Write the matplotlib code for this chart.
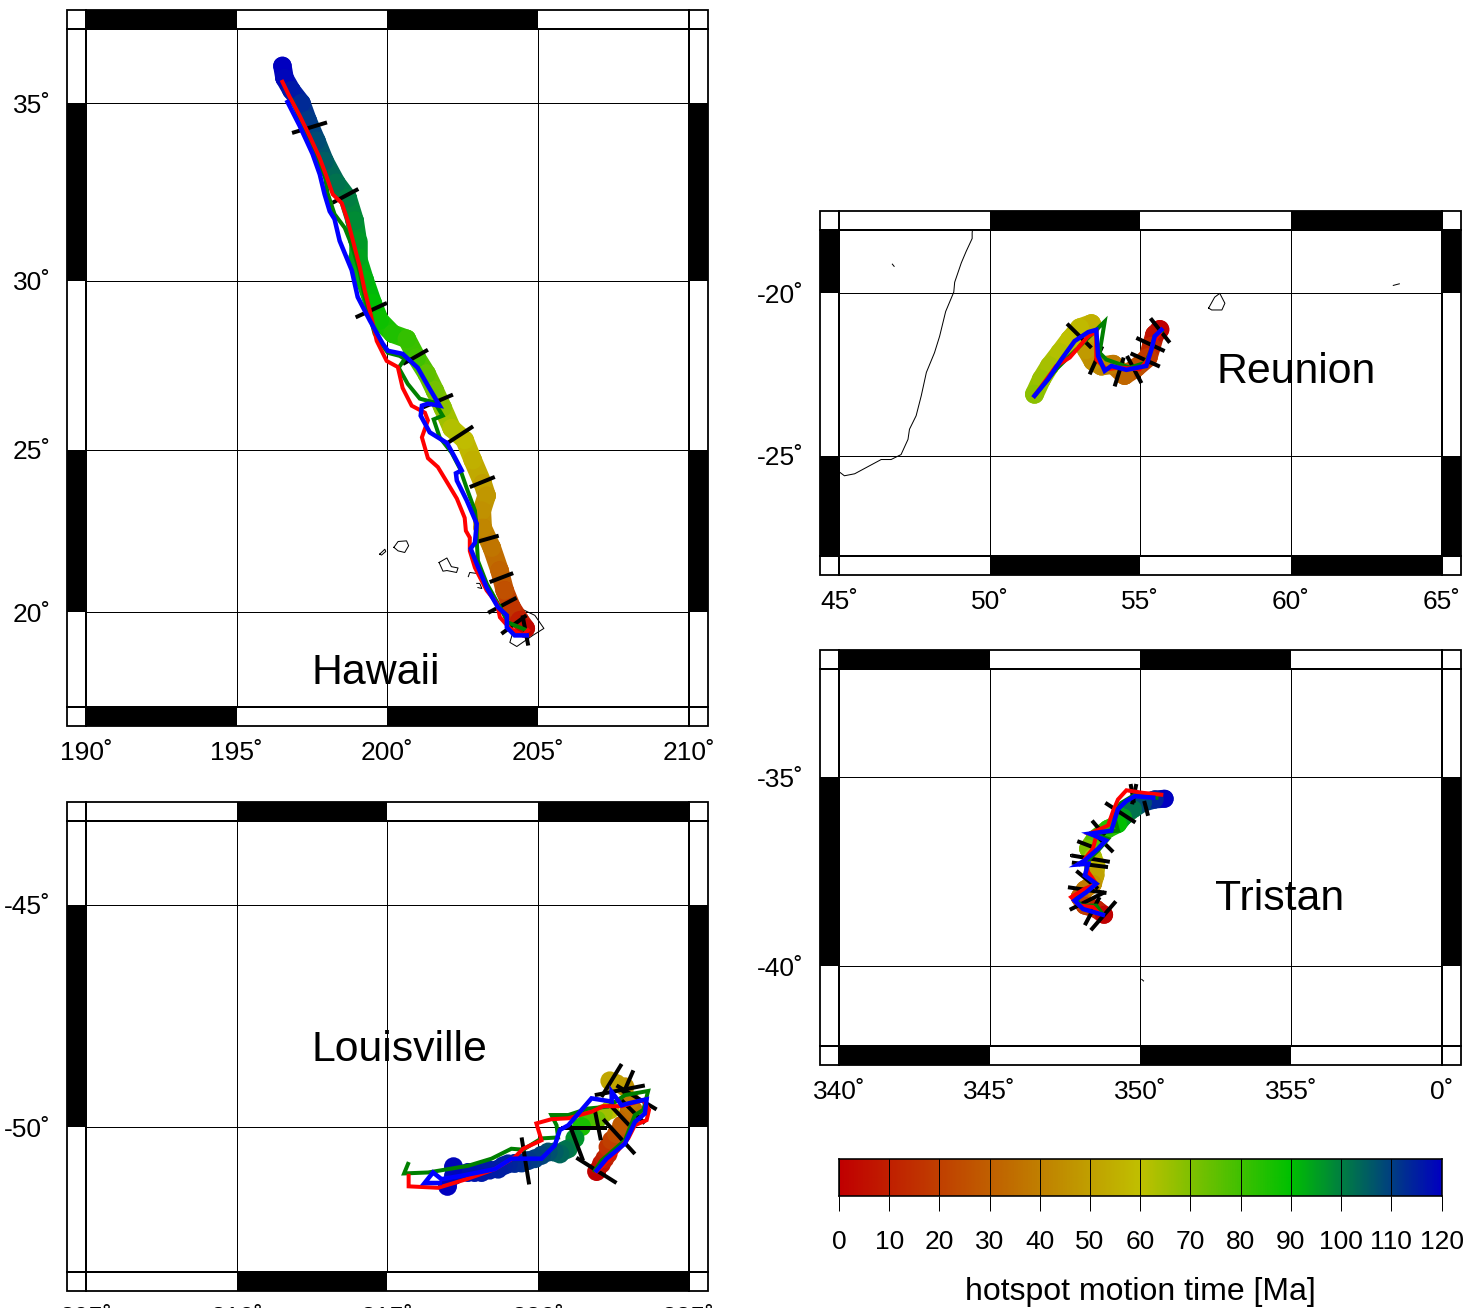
import numpy as np
import matplotlib
matplotlib.use("Agg")
import matplotlib.pyplot as plt
from matplotlib.collections import LineCollection
from matplotlib.colors import LinearSegmentedColormap
from matplotlib.patches import Rectangle

plt.rcParams['font.family'] = ['Liberation Sans', 'DejaVu Sans']

W = 1479
H = 1308
BAND = 19

# Hawaii
hawaii_lon = [196.52, 196.59, 196.82, 197.15, 197.36, 197.65, 197.92, 198.31, 198.69, 198.92, 199.02, 199.02, 199.25, 199.52, 199.75, 200.18, 200.65, 200.98, 201.31, 201.58, 201.84, 202.14, 202.57, 202.84, 203.17, 203.30, 203.14, 203.17, 203.47, 203.73, 203.90, 204.13, 204.40, 204.60]
hawaii_lat = [36.01, 35.68, 35.35, 35.0, 34.52, 33.96, 33.40, 32.79, 32.36, 31.72, 31.15, 30.67, 30.03, 29.35, 28.85, 28.46, 28.31, 27.75, 27.28, 26.78, 26.27, 25.65, 25.30, 24.69, 23.98, 23.61, 23.15, 22.62, 22.01, 21.30, 20.68, 20.15, 19.75, 19.49]
hawaii_age = [120, 119, 116, 113, 111, 108, 105, 102, 100, 98, 96, 94.5, 92, 90, 88, 85, 82, 80, 75, 72, 68, 62, 59, 55, 50, 47, 45, 42, 37, 31, 25, 17, 9, 2]
hawaii_red = [(196.52, 35.58), (196.76, 35.17), (197.09, 34.66), (197.42, 34.10), (197.76, 33.48), (197.98, 32.98), (198.19, 32.47), (198.49, 32.22), (198.69, 31.72), (198.92, 30.96), (199.09, 30.39), (199.25, 29.73), (199.42, 29.14), (199.65, 28.25), (199.98, 27.66), (200.35, 27.48), (200.51, 26.86), (200.81, 26.33), (201.25, 26.12), (201.35, 25.89), (201.15, 25.38), (201.35, 24.75), (201.68, 24.48), (202.01, 23.98), (202.31, 23.52), (202.57, 22.93), (202.61, 22.53), (202.74, 22.32), (202.74, 21.91), (202.91, 21.39), (203.30, 20.68), (203.64, 20.28), (203.74, 19.84), (204.07, 19.49), (204.50, 19.27), (204.67, 19.43)]
hawaii_green = [(196.83, 35.08), (197.19, 34.44), (197.59, 33.68), (197.92, 33.03), (198.02, 32.50), (198.25, 31.91), (198.59, 31.52), (198.85, 30.96), (199.09, 30.24), (199.25, 29.53), (199.58, 28.46), (199.92, 28.02), (200.02, 27.90), (200.41, 27.81), (200.58, 27.72), (200.38, 27.46), (200.68, 26.98), (201.08, 26.54), (201.58, 26.42), (201.84, 26.03), (201.54, 25.92), (201.74, 25.38), (202.14, 24.91), (202.41, 24.44), (202.64, 23.83), (202.91, 23.15), (202.97, 22.62), (202.97, 22.22), (203.01, 21.60), (203.30, 20.90), (203.74, 20.16), (204.00, 19.68), (204.63, 19.43)]
hawaii_blue = [(196.69, 35.03), (197.09, 34.38), (197.52, 33.60), (197.76, 33.03), (197.92, 32.47), (198.09, 31.99), (198.25, 31.77), (198.42, 31.15), (198.82, 30.31), (199.02, 29.53), (199.42, 28.85), (199.85, 28.17), (200.02, 27.96), (200.51, 27.87), (201.01, 27.46), (201.41, 26.83), (201.74, 26.33), (201.35, 26.39), (201.15, 26.33), (201.11, 26.03), (201.41, 25.53), (201.98, 25.21), (202.24, 24.78), (202.47, 24.38), (202.28, 24.29), (202.31, 24.07), (202.64, 23.46), (202.97, 22.75), (202.91, 22.16), (202.77, 21.98), (202.97, 21.51), (203.30, 20.77), (203.67, 20.16), (203.97, 19.90), (203.97, 19.52), (204.23, 19.27), (204.63, 19.27)]
hawaii_bars = [[(196.84, 34.18), (198.00, 34.47)], [(198.18, 32.23), (199.04, 32.62)], [(198.95, 28.94), (199.99, 29.36)], [(200.52, 27.57), (201.35, 27.99)], [(201.19, 26.28), (202.18, 26.66)], [(202.02, 25.22), (202.85, 25.71)], [(202.74, 23.87), (203.57, 24.18)], [(202.91, 22.17), (203.70, 22.38)], [(203.40, 20.94), (204.18, 21.22)], [(203.35, 19.98), (204.29, 20.45)], [(203.79, 19.32), (204.62, 19.90)], [(204.49, 19.90), (204.68, 18.95)]]
hawaii_coast = [
    [(204.13, 20.25), (204.90, 19.90), (205.20, 19.49), (204.83, 19.27), (204.30, 18.92), (204.07, 19.05), (204.17, 19.36)],
    [(202.69, 21.11), (202.74, 21.24), (203.04, 21.20), (203.04, 21.08)],
    [(202.97, 20.90), (203.07, 20.90), (203.14, 20.74), (203.01, 20.77)],
    [(201.72, 21.55), (201.98, 21.69), (202.13, 21.42), (202.35, 21.38), (202.30, 21.24), (201.98, 21.30), (201.85, 21.28), (201.72, 21.55)],
    [(200.22, 22.02), (200.36, 22.20), (200.64, 22.22), (200.71, 22.07), (200.58, 21.86), (200.36, 21.91), (200.22, 22.02)],
    [(199.75, 21.81), (199.92, 21.96), (199.95, 21.89), (199.81, 21.78), (199.75, 21.81)],
]

# Reunion
reunion_lon = [55.65, 55.48, 55.37, 55.26, 54.87, 54.48, 54.10, 53.71, 53.43, 53.21, 53.27, 53.38, 52.99, 52.66, 52.33, 51.99, 51.72, 51.49]
reunion_lat = [-21.13, -21.29, -21.65, -22.00, -22.31, -22.55, -22.21, -22.26, -22.11, -21.75, -21.24, -20.95, -21.08, -21.44, -21.85, -22.26, -22.67, -23.13]
reunion_age = [0, 5, 12, 18, 25, 32, 38, 42, 45, 48, 52, 55, 58, 60, 62, 64, 66, 68]
reunion_red = [(51.49, -23.18), (52.21, -22.26), (52.66, -22.00), (53.27, -21.34), (53.54, -21.19), (53.54, -22.06), (53.87, -22.36), (54.32, -22.31), (54.98, -22.36), (55.26, -22.06), (55.43, -21.54), (55.65, -21.24)]
reunion_green = [(51.49, -23.18), (52.21, -22.36), (52.88, -21.75), (53.54, -21.14), (53.82, -20.88), (53.65, -21.85), (53.87, -22.06), (54.65, -22.31), (55.18, -22.16), (55.37, -21.75), (55.48, -21.34), (55.70, -21.19)]
reunion_blue = [(51.49, -23.18), (51.94, -22.67), (52.38, -22.06), (52.82, -21.49), (53.27, -21.21), (53.54, -21.14), (53.60, -21.95), (53.82, -22.41), (54.04, -22.26), (54.54, -22.38), (55.20, -22.26), (55.37, -21.75), (55.48, -21.34), (55.70, -21.14)]
reunion_bars = [[(52.57, -20.95), (53.38, -21.70)], [(53.74, -21.65), (53.32, -22.52)], [(54.45, -22.00), (54.15, -22.89)], [(54.56, -21.95), (55.04, -22.79)], [(54.68, -21.87), (55.65, -22.28)], [(54.87, -21.39), (55.81, -21.80)], [(55.34, -20.78), (55.98, -21.54)]]
reunion_coast = [
    [(49.43, -18.0), (49.42, -18.09), (49.42, -18.27), (49.22, -18.68), (49.06, -19.04), (48.84, -19.65), (48.81, -19.96), (48.54, -20.57), (48.34, -21.34), (48.17, -21.85), (47.90, -22.46), (47.73, -23.18), (47.56, -23.79), (47.34, -24.20), (47.29, -24.51), (47.06, -24.97), (46.73, -25.12), (46.40, -25.12), (45.52, -25.55), (45.18, -25.61), (45.02, -25.50)],
    [(57.27, -20.46), (57.47, -20.12), (57.64, -20.0), (57.81, -20.31), (57.71, -20.52), (57.37, -20.52), (57.27, -20.46)],
    [(63.40, -19.75), (63.60, -19.70)],
    [(46.77, -19.08), (46.83, -19.15)],
]

# Tristan
tristan_lon = [350.81, 350.48, 350.09, 349.76, 349.43, 349.26, 348.93, 348.49, 348.27, 348.43, 348.54, 348.51, 348.43, 348.16, 347.99, 348.16, 348.54, 348.80]
tristan_lat = [-35.59, -35.61, -35.70, -35.87, -36.09, -36.27, -36.40, -36.67, -36.93, -37.15, -37.37, -37.64, -37.86, -38.01, -38.21, -38.43, -38.52, -38.67]
tristan_age = [120, 114, 108, 102, 95, 90, 84, 76, 70, 63, 57, 51, 46, 38, 30, 20, 10, 0]
tristan_red = [(350.70, -35.48), (350.09, -35.43), (349.54, -35.36), (349.26, -35.61), (349.10, -35.92), (348.93, -36.31), (348.32, -36.53), (348.54, -36.58), (348.43, -36.93), (348.16, -37.20), (348.27, -37.55), (348.54, -37.86), (348.16, -37.99), (347.71, -38.21), (347.99, -38.43), (348.43, -38.47), (348.60, -38.61)]
tristan_green = [(350.54, -35.56), (349.82, -35.48), (349.37, -35.70), (349.10, -35.96), (349.26, -36.45), (348.38, -36.53), (348.93, -36.67), (348.60, -36.98), (348.21, -37.28), (348.21, -37.64), (348.49, -37.86), (348.27, -38.03), (347.82, -38.21), (348.04, -38.43), (348.54, -38.43), (348.71, -38.61)]
tristan_blue = [(350.43, -35.56), (349.82, -35.52), (349.54, -35.65), (349.26, -35.87), (349.04, -36.45), (348.32, -36.53), (348.86, -36.71), (348.60, -36.93), (348.16, -37.24), (347.93, -37.35), (348.27, -37.33), (348.16, -37.64), (348.54, -37.86), (348.21, -38.08), (347.82, -38.30), (348.10, -38.52), (348.76, -38.67)]
tristan_bars = [[(349.68, -35.19), (349.79, -35.70)], [(349.87, -35.19), (349.73, -35.74)], [(350.13, -35.65), (350.26, -36.05)], [(348.84, -35.70), (349.84, -36.23)], [(348.40, -36.18), (348.82, -36.58)], [(347.91, -36.73), (348.43, -36.89)], [(348.60, -36.62), (349.10, -37.02)], [(347.71, -37.11), (348.99, -37.28)], [(347.73, -37.30), (348.93, -37.42)], [(347.88, -37.52), (348.60, -37.99)], [(347.60, -37.95), (348.88, -38.10)], [(347.66, -38.54), (348.82, -38.08)], [(348.16, -38.94), (348.65, -38.21)], [(348.36, -39.07), (349.19, -38.32)]]
tristan_coast = [
    [(347.66, -37.06), (347.72, -37.06), (347.72, -37.12), (347.66, -37.12), (347.66, -37.06)],
    [(350.05, -40.33), (350.11, -40.37)],
]

# Louisville
louisville_lon = [221.95, 222.11, 222.22, 222.33, 222.33, 222.45, 222.61, 222.78, 223.00, 223.17, 223.00, 223.06, 222.89, 222.61, 222.39, 222.39, 222.17, 221.95, 221.67, 221.45, 221.23, 221.01, 220.90, 220.73, 220.54, 220.34, 220.12, 219.90, 219.68, 219.46, 219.23, 219.01, 218.85, 218.68, 218.40, 218.13, 217.90, 217.68, 217.20, 217.00, 217.20]
louisville_lat = [-50.94, -50.78, -50.67, -50.57, -50.42, -50.28, -50.14, -49.96, -49.71, -49.63, -49.49, -49.42, -49.13, -49.06, -49.00, -49.63, -49.71, -49.85, -49.81, -49.99, -50.24, -50.46, -50.49, -50.57, -50.53, -50.53, -50.60, -50.67, -50.71, -50.76, -50.77, -50.78, -50.82, -50.89, -50.91, -50.96, -50.96, -50.96, -51.03, -51.25, -50.84]
louisville_age = [0, 5, 9, 12, 16, 20, 24, 28, 33, 35, 36, 38, 45, 49, 52, 60, 65, 72, 78, 86, 97, 100, 102, 104, 105, 107, 109, 110, 111, 112, 113, 114, 114.5, 115, 115.5, 116, 116.5, 117, 118, 120, 119]
louisville_red = [(215.71, -51.03), (215.71, -51.25), (216.69, -51.28), (217.63, -51.10), (218.57, -50.89), (219.23, -50.64), (219.51, -50.46), (220.12, -50.28), (219.95, -49.92), (220.45, -49.83), (221.01, -49.81), (221.78, -49.67), (222.17, -49.55), (222.78, -49.55), (223.50, -49.42), (223.69, -49.63), (223.61, -49.85), (223.22, -49.96), (223.00, -50.24), (222.56, -50.57), (221.95, -50.94)]
louisville_green = [(215.69, -50.78), (215.56, -50.98), (216.36, -50.96), (217.68, -50.82), (218.46, -50.67), (219.12, -50.46), (219.51, -50.48), (220.12, -50.24), (220.67, -50.22), (220.62, -49.96), (220.45, -49.74), (221.01, -49.74), (221.67, -49.60), (222.33, -49.56), (222.89, -49.31), (223.66, -49.22), (223.50, -49.63), (223.22, -49.74), (222.89, -50.28), (222.11, -50.71), (221.89, -50.92)]
louisville_blue = [(216.74, -51.18), (216.24, -51.18), (216.52, -50.96), (216.80, -51.10), (217.46, -51.03), (218.57, -50.89), (219.12, -50.67), (220.12, -50.67), (220.56, -50.39), (220.73, -50.06), (221.01, -49.96), (221.78, -49.38), (222.45, -49.45), (222.45, -49.24), (222.78, -49.53), (223.00, -49.49), (223.61, -49.40), (223.55, -49.71), (223.22, -49.89), (222.89, -50.35), (222.28, -50.67), (221.95, -50.92)]
louisville_bars = [[(219.46, -50.22), (219.71, -51.21)], [(220.78, -50.01), (222.28, -50.01)], [(221.06, -49.96), (221.50, -50.71)], [(221.28, -50.65), (222.61, -51.18)], [(221.89, -49.63), (222.09, -50.28)], [(222.17, -49.83), (223.22, -50.57)], [(222.45, -49.56), (223.03, -49.96)], [(221.89, -49.31), (223.55, -49.10)], [(222.78, -48.63), (222.11, -49.35)], [(223.17, -48.77), (222.83, -49.28)], [(222.61, -49.10), (223.94, -49.62)], [(222.78, -49.42), (223.55, -49.92)]]

age_ticks = [0, 10, 20, 30, 40, 50, 60, 70, 80, 90, 100, 110, 120]
age_cmap = LinearSegmentedColormap.from_list("hotspot", [(0, "#c00000"), (0.5, "#c0c000"), (0.75, "#00c000"), (1, "#0000c0")])


def px(value):
    # sizes below are read in image pixels, the figure is at 100 dpi
    return value * 0.72


def merc(lat):
    return np.degrees(np.log(np.tan(np.radians(45 + np.asarray(lat) / 2))))


def inv_merc(y):
    return 2 * np.degrees(np.arctan(np.exp(np.radians(np.asarray(y))))) - 90


def make_panel(x0, y0, x1, y1, lon_edges, lat_edges, lon_labels, lat_ticks, lat_labels, lon_black, lat_black):
    ax = plt.gcf().add_axes([x0 / W, 1 - y1 / H, (x1 - x0) / W, (y1 - y0) / H])
    ax.set_yscale('function', functions=(merc, inv_merc))
    ax.set_xlim(lon_edges[0], lon_edges[-1])
    ax.set_ylim(lat_edges[0], lat_edges[-1])
    ax.set_xticks(lon_edges, labels=lon_labels)
    ax.set_yticks(lat_ticks, labels=lat_labels)
    ax.minorticks_off()
    ax.tick_params(length=0, labelsize=19)
    ax.tick_params(axis='x', pad=px(34))
    ax.tick_params(axis='y', pad=px(35))
    ax.grid(color='black', lw=px(1))
    ax.set_axisbelow(True)
    for s in ax.spines.values():
        s.set_linewidth(px(2))

    fx = BAND / (x1 - x0)
    fy = BAND / (y1 - y0)
    for i in range(len(lon_edges) - 1):
        if i % 2 == lon_black:
            for base in [1, -fy]:
                ax.add_patch(Rectangle((lon_edges[i], base), lon_edges[i + 1] - lon_edges[i], fy, transform=ax.get_xaxis_transform(), clip_on=False, fc='black', lw=0))
    for i in range(len(lat_edges) - 1):
        if i % 2 == lat_black:
            for base in [1, -fx]:
                ax.add_patch(Rectangle((base, lat_edges[i]), fx, lat_edges[i + 1] - lat_edges[i], transform=ax.get_yaxis_transform(), clip_on=False, fc='black', lw=0))
    ax.add_patch(Rectangle((-fx, -fy), 1 + 2 * fx, 1 + 2 * fy, transform=ax.transAxes, clip_on=False, fc='none', ec='black', lw=px(1.8)))
    # the frame lines run on through the corner boxes
    for edge in [0, 1]:
        ax.plot([-fx, 1 + fx], [edge, edge], transform=ax.transAxes, clip_on=False, color='black', lw=px(2))
        ax.plot([edge, edge], [-fy, 1 + fy], transform=ax.transAxes, clip_on=False, color='black', lw=px(2))
    return ax


def draw_track(ax, lon, lat, age, size, joined=True):
    lon = np.array(lon)
    lat = np.array(lat)
    age = np.array(age, dtype=float)
    if joined:
        pts = np.column_stack([lon, lat])
        segs = np.stack([pts[:-1], pts[1:]], axis=1)
        lc = LineCollection(segs, cmap=age_cmap, linewidths=px(size), capstyle='round', zorder=3)
        lc.set_array((age[:-1] + age[1:]) / 2)
        lc.set_clim(0, 120)
        ax.add_collection(lc)
    ax.scatter(lon, lat, c=age, cmap=age_cmap, vmin=0, vmax=120, s=px(size) ** 2, lw=0, zorder=3)


def draw_lines(ax, red, green, blue, bars, coast=None):
    if coast:
        for c in coast:
            c = np.array(c)
            ax.plot(c[:, 0], c[:, 1], color='black', lw=px(1), zorder=2)
    for line, col, wid, z in [(green, 'green', 4, 5), (red, 'red', 4, 6), (blue, 'blue', 4.5, 7)]:
        line = np.array(line)
        ax.plot(line[:, 0], line[:, 1], color=col, lw=px(wid), solid_joinstyle='miter', zorder=z)
    for b in bars:
        b = np.array(b)
        ax.plot(b[:, 0], b[:, 1], color='black', lw=px(4), solid_capstyle='butt', zorder=4)


fig = plt.figure(figsize=(W / 100, H / 100), dpi=100)

ax = make_panel(86, 29, 688.5, 707, [190, 195, 200, 205, 210], [17, 20, 25, 30, 35, 37],
                ["190˚", "195˚", "200˚", "205˚", "210˚"], [20, 25, 30, 35], ["20˚", "25˚", "30˚", "35˚"], 0, 1)
draw_track(ax, hawaii_lon, hawaii_lat, hawaii_age, 18.5)
draw_lines(ax, hawaii_red, hawaii_green, hawaii_blue, hawaii_bars, hawaii_coast)

ax = make_panel(839, 230, 1441.5, 556, [45, 50, 55, 60, 65], [-28, -25, -20, -18],
                ["45˚", "50˚", "55˚", "60˚", "65˚"], [-25, -20], ["-25˚", "-20˚"], 1, 0)
draw_track(ax, reunion_lon, reunion_lat, reunion_age, 19)
draw_lines(ax, reunion_red, reunion_green, reunion_blue, reunion_bars, reunion_coast)

ax = make_panel(839, 669, 1441.5, 1046, [340, 345, 350, 355, 360], [-42, -40, -35, -32],
                ["340˚", "345˚", "350˚", "355˚", "0˚"], [-40, -35], ["-40˚", "-35˚"], 0, 1)
draw_track(ax, tristan_lon, tristan_lat, tristan_age, 18)
draw_lines(ax, tristan_red, tristan_green, tristan_blue, tristan_bars, tristan_coast)

ax = make_panel(86, 821, 688.5, 1272, [205, 210, 215, 220, 225], [-53, -50, -45, -43],
                ["205˚", "210˚", "215˚", "220˚", "225˚"], [-50, -45], ["-50˚", "-45˚"], 1, 1)
draw_track(ax, louisville_lon, louisville_lat, louisville_age, 19, joined=False)
draw_lines(ax, louisville_red, louisville_green, louisville_blue, louisville_bars)

for name, x, y in [("Hawaii", 311.5, 684), ("Reunion", 1216.5, 383), ("Tristan", 1215.5, 910), ("Louisville", 311.5, 1061)]:
    fig.text(x / W, 1 - y / H, name, fontsize=30.8, ha='left', va='baseline')

# colour scale
cax = fig.add_axes([839 / W, 1 - 1196 / H, 602.5 / W, 37 / H])
cax.imshow(np.linspace(0, 120, 600).reshape(1, -1), cmap=age_cmap, aspect='auto', extent=[0, 120, 0, 1])
for t in age_ticks:
    cax.axvline(t, color='black', lw=px(1))
cax.set_xticks(age_ticks)
cax.set_yticks([])
cax.tick_params(axis='x', length=px(15), width=px(1), pad=px(19), labelsize=19)
for s in cax.spines.values():
    s.set_linewidth(px(1.6))
cax.set_xlabel("hotspot motion time [Ma]", fontsize=23, labelpad=px(23))

fig.savefig("out.png", dpi=100)
